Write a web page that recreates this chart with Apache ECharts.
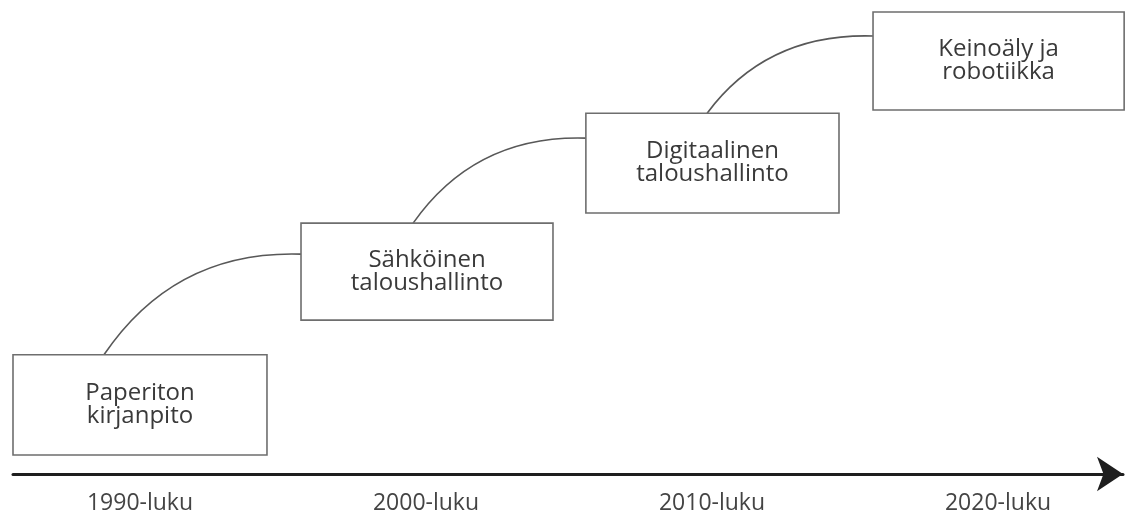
<!DOCTYPE html>
<html><head><meta charset="utf-8">
<script src="https://cdn.jsdelivr.net/npm/echarts@6/dist/echarts.min.js"></script>
<style>html,body{margin:0;padding:0;background:#fff}#c{width:1125px;height:515px}</style>
</head><body><div id="c"></div>
<script>
// Timeline decades (x axis, in years)
const decades = [1990, 2000, 2010, 2020];
const decadeLabels = ['1990-luku', '2000-luku', '2010-luku', '2020-luku'];
// Stages (boxes): text, time span, and level span (0-100)
const stages = ['Paperiton\nkirjanpito', 'Sähköinen\ntaloushallinto', 'Digitaalinen\ntaloushallinto', 'Keinoäly ja\nrobotiikka'];
const stageStart = [1985.56, 1995.63, 2005.59, 2015.63];
const stageEnd = [1994.44, 2004.44, 2014.44, 2024.41];
const stageLow = [4.1, 33.3, 56.5, 78.8];
const stageHigh = [25.8, 54.3, 78.1, 100];
// Connectors: leave top of stage i at year linkFrom[i], reach left side of stage i+1 at level linkTo[i]
const linkFrom = [1988.74, 1999.55, 2009.83];
const linkTo = [47.6, 72.7, 94.8];

const FONT = '"Open Sans", "Noto Sans", sans-serif';
const chart = echarts.init(document.getElementById('c'), null, {renderer: 'canvas'});
chart.setOption({
  animation: false,
  backgroundColor: '#ffffff',
  grid: {left: 13, right: 2, top: 12, bottom: 41, containLabel: false, outerBoundsMode: 'none'},
  xAxis: {
    type: 'value', min: 1985.56, max: 2024.37,
    splitLine: {show: false},
    axisTick: {show: false},
    axisLine: {show: true, onZero: false, symbol: ['none', 'arrow'], symbolSize: [26, 26],
      lineStyle: {color: '#1e1e1e', width: 3}},
    axisLabel: {
      customValues: decades, margin: 18, color: '#444', fontSize: 23, fontFamily: FONT,
      formatter: v => decadeLabels[decades.indexOf(v)] || ''
    }
  },
  yAxis: {type: 'value', min: 0, max: 100, show: false, splitLine: {show: false}},
  series: [
    {
      type: 'custom', clip: false, silent: true, z: 1,
      data: linkFrom.map((x, i) => [x, stageHigh[i], stageStart[i + 1], linkTo[i]]),
      renderItem: (params, api) => {
        const a = api.coord([api.value(0), api.value(1)]);
        const b = api.coord([api.value(2), api.value(3)]);
        return {
          type: 'bezierCurve',
          shape: {x1: a[0], y1: a[1], x2: b[0], y2: b[1],
                  cpx1: a[0] + 0.36 * (b[0] - a[0]), cpy1: a[1] + 1.04 * (b[1] - a[1])},
          style: {stroke: '#585858', lineWidth: 1.6, fill: null}
        };
      }
    },
    {
      type: 'custom', clip: false, silent: true, z: 2,
      data: stages.map((s, i) => [stageStart[i], stageLow[i], stageEnd[i], stageHigh[i]]),
      renderItem: (params, api) => {
        const i = params.dataIndex;
        const p1 = api.coord([api.value(0), api.value(3)]);
        const p2 = api.coord([api.value(2), api.value(1)]);
        return {
          type: 'group',
          children: [
            {type: 'rect', shape: {x: p1[0], y: p1[1], width: p2[0] - p1[0], height: p2[1] - p1[1]},
             style: {fill: '#ffffff', stroke: '#6e6e6e', lineWidth: 1.6}},
            {type: 'text', style: {text: stages[i], x: (p1[0] + p2[0]) / 2, y: (p1[1] + p2[1]) / 2,
             align: 'center', verticalAlign: 'middle', fontSize: 24, fontFamily: FONT,
             lineHeight: 23, fill: '#3a3a3a'}}
          ]
        };
      }
    }
  ]
});
</script></body></html>
